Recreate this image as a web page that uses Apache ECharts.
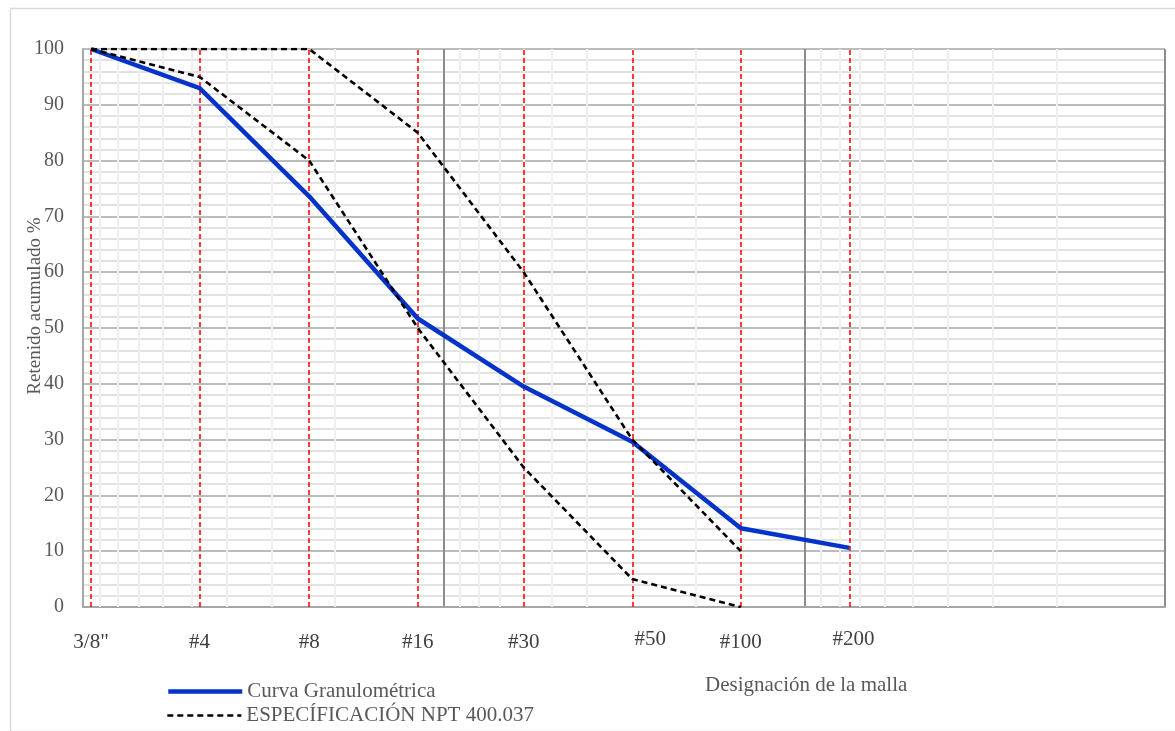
<!DOCTYPE html>
<html><head><meta charset="utf-8">
<script src="https://cdn.jsdelivr.net/npm/echarts/dist/echarts.min.js"></script>
<style>html,body{margin:0;padding:0;background:#fff}#c{width:1175px;height:731px}</style>
</head><body><div id="c"></div>
<script>
// ---- data ----
const sieveNames = ['3/8"', '#4', '#8', '#16', '#30', '#50', '#100', '#200'];
const sieveOpenings = [9.5, 4.75, 2.36, 1.18, 0.6, 0.3, 0.15, 0.075]; // mm
const curvaGranulometrica = [100, 93, 73.6, 51.7, 39.5, 29.6, 14.1, 10.6];
const specUpper = [100, 100, 100, 85, 60, 30, 10];
const specLower = [100, 95, 80, 50, 25, 5, 0];
const decadeStarts = [0.01, 0.1, 1];
const minorMultipliers = [2, 3, 4, 5, 6, 7, 8, 9];
const legendNames = ['Curva Granulométrica', 'ESPECÍFICACIÓN NPT 400.037'];

// ---- styling helpers ----
const FONT = "'Liberation Serif', 'Times New Roman', serif";
const labelShift = { '#50': [18, -3], '#200': [4, -3] }; // label offsets in px

const pairs = (vals) => vals.map((v, i) => [sieveOpenings[i], v]);
const minorX = decadeStarts.flatMap(d => minorMultipliers.map(m => +(d * m).toPrecision(3)));

const legendCommon = {
  orient: 'horizontal', left: 166, padding: 0, itemWidth: 74, itemHeight: 12, itemGap: 6,
  textStyle: { fontFamily: FONT, fontSize: 21, color: '#595959' },
  itemStyle: { opacity: 0 }
};

const chart = echarts.init(document.getElementById('c'), null, { renderer: 'canvas' });
chart.setOption({
  animation: false,
  backgroundColor: '#ffffff',
  graphic: [
    { type: 'rect', left: 8, top: 6, shape: { width: 1180, height: 723 }, style: { fill: 'none', stroke: '#d9d9d9', lineWidth: 1.5 }, silent: true, z: -10 },
    { type: 'text', left: 705, top: 675, style: { text: 'Designación de la malla', font: "21px " + FONT, fill: '#595959' } }
  ],
  grid: { left: 83, right: 10, top: 49, bottom: 124, containLabel: false, outerBoundsMode: 'none' },
  legend: [
    Object.assign({}, legendCommon, { data: [legendNames[0]], top: 681, lineStyle: { width: 4.5 } }),
    Object.assign({}, legendCommon, { data: [legendNames[1]], top: 705, lineStyle: { width: 2.6, type: [6, 4] } })
  ],
  xAxis: {
    type: 'log', logBase: 10, min: 0.01, max: 10, inverse: true,
    axisLine: { show: true, lineStyle: { color: '#a6a6a6', width: 2 } },
    axisTick: { show: false }, axisLabel: { show: false },
    splitLine: { show: true, lineStyle: { color: '#8c8c8c', width: 2 } }
  },
  yAxis: {
    type: 'value', min: 0, max: 100, interval: 10,
    name: 'Retenido acumulado %', nameLocation: 'middle', nameGap: 38, nameMoveOverlap: false,
    nameTextStyle: { fontFamily: FONT, fontSize: 19, color: '#595959', padding: [0, 0, 0, 44] },
    axisLine: { show: true, lineStyle: { color: '#a6a6a6', width: 2 } },
    axisTick: { show: false },
    axisLabel: { fontFamily: FONT, fontSize: 20, color: '#595959', margin: 19 },
    splitLine: { show: true, lineStyle: { color: '#a6a6a6', width: 1.5 } },
    minorTick: { show: false, splitNumber: 5 },
    minorSplitLine: { show: true, lineStyle: { color: '#d9d9d9', width: 1.5 } }
  },
  series: [
    {
      name: 'minor-x', type: 'line', data: [], silent: true, z: 1,
      markLine: {
        silent: true, symbol: ['none', 'none'], animation: false, precision: 6, z: 1,
        lineStyle: { color: '#efefef', type: 'solid', width: 2 },
        label: { show: false },
        data: minorX.map(v => ({ xAxis: v }))
      }
    },
    {
      name: 'sieves', type: 'line', data: [], silent: true, z: 3,
      markLine: {
        silent: true, symbol: ['none', 'none'], animation: false, precision: 6, z: 3,
        lineStyle: { color: '#ff0000', type: [5, 3], width: 1.5 },
        label: {
          show: true, position: 'start', distance: 25,
          fontFamily: FONT, fontSize: 21, color: '#404040',
          formatter: p => p.name
        },
        data: sieveOpenings.map((v, i) => {
          const s = labelShift[sieveNames[i]];
          const item = { xAxis: v, name: sieveNames[i] };
          if (s) item.label = { offset: s };
          return item;
        })
      }
    },
    {
      name: legendNames[0], type: 'line', data: pairs(curvaGranulometrica),
      symbol: 'none', z: 4,
      lineStyle: { color: '#0433c9', width: 4.5 }, itemStyle: { color: '#0433c9' }
    },
    {
      name: legendNames[1], type: 'line', data: pairs(specUpper),
      symbol: 'none', z: 5,
      lineStyle: { color: '#000000', type: [6, 4], width: 2.6 }, itemStyle: { color: '#000000' }
    },
    {
      name: legendNames[1], type: 'line', data: pairs(specLower),
      symbol: 'none', z: 5,
      lineStyle: { color: '#000000', type: [6, 4], width: 2.6 }, itemStyle: { color: '#000000' }
    }
  ]
});
</script></body></html>
